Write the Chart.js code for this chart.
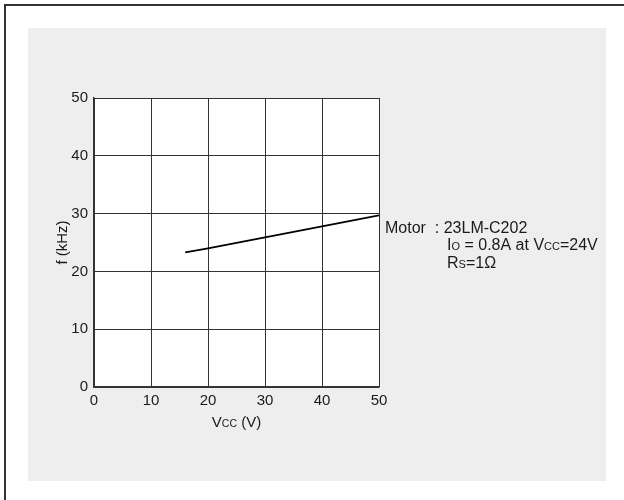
<!DOCTYPE html>
<html>
<head>
<meta charset="utf-8">
<script src="https://cdn.jsdelivr.net/npm/chart.js@4"></script>
<style>
  html, body { margin: 0; padding: 0; background: #fff; overflow: hidden; }
  #wrap { width: 624px; height: 500px; }
</style>
</head>
<body>
<div id="wrap"><canvas id="fchart"></canvas></div>
<script>
// supply voltage (V) and chopping frequency (kHz)
const vccValues = [16, 20, 30, 40, 50];
const freqValues = [23.3, 24.0, 25.9, 27.8, 29.7];
const xTicks = [0, 10, 20, 30, 40, 50];
const yTicks = [0, 10, 20, 30, 40, 50];

const FONT = '"Liberation Sans", Arial, sans-serif';

// draw a run of text pieces with different sizes on one baseline
function drawRuns(ctx, runs, x, y) {
    runs.forEach(r => {
        ctx.font = r[1] + 'px ' + FONT;
        ctx.fillText(r[0], x, y);
        x += ctx.measureText(r[0]).width;
    });
    return x;
}
function runsWidth(ctx, runs) {
    let w = 0;
    runs.forEach(r => {
        ctx.font = r[1] + 'px ' + FONT;
        w += ctx.measureText(r[0]).width;
    });
    return w;
}

// panel, frame and the extra texts
const framePlugin = {
    id: 'frame',
    beforeDraw: function(chart) {
        const ctx = chart.ctx;
        const a = chart.chartArea;
        ctx.save();
        ctx.fillStyle = '#ffffff';
        ctx.fillRect(0, 0, chart.width, chart.height);
        ctx.strokeStyle = '#333333';
        ctx.lineWidth = 2;
        ctx.strokeRect(5, 5, 700, 600);
        ctx.fillStyle = '#eeeeee';
        ctx.fillRect(28, 28, 578, 453);
        ctx.fillStyle = '#ffffff';
        ctx.fillRect(a.left, a.top, a.right - a.left, a.bottom - a.top);
        ctx.restore();
    },
    afterDraw: function(chart) {
        const ctx = chart.ctx;
        const a = chart.chartArea;
        ctx.save();
        ctx.fillStyle = '#1a1a1a';
        ctx.textBaseline = 'alphabetic';
        ctx.textAlign = 'left';

        // x axis title
        const xt = [['V', 15], ['CC', 10.5], [' (V)', 15]];
        drawRuns(ctx, xt, (a.left + a.right) / 2 - runsWidth(ctx, xt) / 2, 427);

        // y axis title
        ctx.save();
        ctx.translate(67, (a.top + a.bottom) / 2);
        ctx.rotate(-Math.PI / 2);
        const yt = [['f (kHz)', 15]];
        drawRuns(ctx, yt, -runsWidth(ctx, yt) / 2, 0);
        ctx.restore();

        // motor note
        drawRuns(ctx, [['Motor  : 23LM-C202', 16]], 385, 232.5);
        drawRuns(ctx, [['I', 16], ['O', 11], [' = 0.8A at V', 16], ['CC', 11], ['=24V', 16]], 447, 250);
        drawRuns(ctx, [['R', 16], ['S', 11], ['=1\u03A9', 16]], 447, 268);
        ctx.restore();
    }
};

const points = vccValues.map((v, i) => ({ x: v, y: freqValues[i] }));

new Chart(document.getElementById('fchart'), {
    type: 'line',
    data: {
        datasets: [{
            data: points,
            borderColor: '#000000',
            borderWidth: 1.8,
            pointRadius: 0,
            tension: 0,
            fill: false
        }]
    },
    options: {
        responsive: true,
        maintainAspectRatio: false,
        animation: false,
        layout: { padding: { left: 64, top: 98, right: 245, bottom: 83 } },
        plugins: {
            legend: { display: false },
            tooltip: { enabled: false }
        },
        scales: {
            x: {
                type: 'linear',
                min: 0,
                max: 50,
                afterBuildTicks: s => { s.ticks = xTicks.map(v => ({ value: v })); },
                afterFit: s => { s.height = 30; },
                grid: { color: '#333333', lineWidth: 1, drawTicks: false },
                border: { color: '#333333', width: 1.5 },
                ticks: { color: '#1a1a1a', padding: 5, maxRotation: 0, font: { size: 15, family: FONT } }
            },
            y: {
                type: 'linear',
                min: 0,
                max: 50,
                afterBuildTicks: s => { s.ticks = yTicks.map(v => ({ value: v })); },
                afterFit: s => { s.width = 30; },
                grid: { color: '#333333', lineWidth: 1, drawTicks: false },
                border: { color: '#333333', width: 1.5 },
                ticks: { color: '#1a1a1a', padding: 6, font: { size: 15, family: FONT } }
            }
        }
    },
    plugins: [framePlugin]
});
</script>
</body>
</html>
